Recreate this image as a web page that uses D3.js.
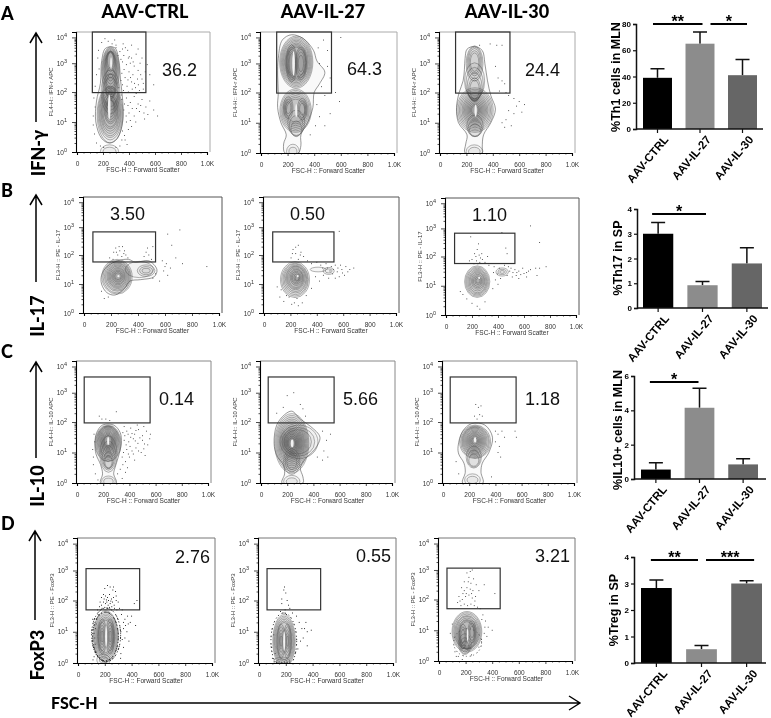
<!DOCTYPE html>
<html><head><meta charset="utf-8">
<script src="https://cdn.jsdelivr.net/npm/d3@7/dist/d3.min.js"></script>
<style>
html,body{margin:0;padding:0;background:#fff}
svg{display:block;filter:blur(0.35px)}
text{font-family:"Liberation Sans",Arial,sans-serif}
.hd{font-family:"Lato",sans-serif;font-weight:900}
.flow{filter:blur(0.35px)}
</style></head><body><svg id="c" width="771" height="718"></svg>
<script>
// ---------- data ----------
const groups = ["AAV-CTRL","AAV-IL-27","AAV-IL-30"];
const rowLetters = ["A","B","C","D"];
const rowMarkers = ["IFN-γ","IL-17","IL-10","FoxP3"];
const yChannelLabels = ["FL4-H:: IFN-r APC","FL3-H :: PE - IL-17","FL4-H:: IL-10 APC","FL3-H :: PE - FoxP3"];
const xChannelLabel = "FSC-H :: Forward Scatter";
const xTicks = [0,200,400,600,800,1000];
const xTickLabels = ["0","200","400","600","800","1.0K"];
const xMinor = [50,100,150,250,300,350,450,500,550,650,700,750,850,900,950];
const expTicks = [0,1,2,3,4];
const expMinorOffsets = [0.3,0.48,0.6,0.7,0.78,0.85,0.9,0.95];
const gateValues = [["36.2","64.3","24.4"],["3.50","0.50","1.10"],["0.14","5.66","1.18"],["2.76","0.55","3.21"]];
// gates: fsc min, fsc max, exp min, exp max
const gates = [[118,530,1.98,4.2],[66,530,1.76,2.83],[55,558,1.97,3.6],[60,460,1.7,3.07]];

// contour rings: fsc centre, exp centre, fsc radius, exp radius
const ringsA1=[[255,1.25,100,.95],[255,1.28,93,.88],[255,1.3,86,.82],[255,1.3,80,.76],[255,1.32,74,.7],[255,1.33,68,.64],[255,1.35,62,.58],[256,1.35,56,.52],[258,1.4,50,.46],[258,1.4,44,.4],[258,1.42,38,.34],[258,1.45,32,.28],[258,1.5,26,.22],[258,2.0,72,.75],[258,2.0,64,.62],[258,2.0,56,.5],[258,2.7,68,.9],[258,2.72,63,.84],[258,2.75,58,.78],[258,2.78,53,.72],[258,2.8,48,.66],[258,2.85,44,.6],[258,2.9,40,.54],[258,2.95,36,.48],[258,3.0,32,.42],[258,3.05,28,.36],[258,3.1,24,.3],[258,2.3,44,.55],[258,2.2,34,.42],[250,.02,70,.22],[250,.02,50,.14]];
const ringsA2=[[265,3.05,125,.95],[265,3.05,118,.9],[265,3.05,111,.85],[265,3.05,104,.8],[265,3.05,97,.75],[265,3.05,90,.7],[265,3.05,84,.65],[265,3.05,78,.6],[265,3.05,72,.55],[230,3.0,42,.68],[230,3.0,36,.6],[230,3.0,30,.52],[230,3.0,24,.44],[230,3.0,18,.36],[300,3.0,42,.6],[300,3.0,36,.52],[300,3.0,28,.42],[300,3.0,20,.3],[260,1.4,118,.72],[260,1.4,110,.67],[260,1.4,102,.62],[260,1.4,94,.56],[260,1.4,86,.5],[260,1.4,78,.44],[260,1.4,70,.38],[205,1.5,36,.36],[205,1.5,28,.28],[205,1.5,20,.2],[310,1.45,36,.36],[310,1.45,28,.28],[310,1.45,20,.2],[265,1.0,64,.42],[265,.9,52,.34],[265,.8,40,.26],[240,.05,48,.24],[240,.05,30,.14]];
const ringsA3=[[262,3.0,64,.64],[262,3.02,56,.58],[262,3.05,48,.5],[262,3.05,40,.42],[262,3.05,32,.34],[262,2.4,76,.62],[262,2.3,66,.56],[262,2.2,56,.48],[262,2.1,46,.4],[262,2.1,36,.32],[265,1.42,138,.74],[265,1.42,128,.69],[265,1.42,118,.64],[265,1.42,108,.59],[265,1.42,98,.54],[265,1.42,89,.49],[265,1.42,80,.44],[265,1.42,71,.39],[265,1.42,62,.34],[265,1.42,53,.29],[265,1.42,44,.24],[265,1.42,35,.19],[265,1.42,26,.14],[265,.9,62,.36],[265,.82,52,.28],[265,.76,42,.2],[260,.05,62,.22],[260,.05,44,.14]];
const ringsB1=[[245,1.25,112,.6],[245,1.25,104,.56],[247,1.26,96,.51],[248,1.26,88,.47],[250,1.27,80,.43],[250,1.27,72,.39],[250,1.27,64,.35],[250,1.27,56,.3],[252,1.27,48,.26],[252,1.27,40,.21],[252,1.27,32,.17],[252,1.27,24,.12],[460,1.46,65,.2],[460,1.46,48,.14],[460,1.46,30,.08],[410,1.5,105,.28]];
const ringsB2=[[235,1.15,110,.62],[235,1.15,102,.57],[237,1.16,94,.53],[238,1.17,86,.48],[240,1.18,78,.44],[240,1.2,70,.4],[240,1.2,62,.36],[242,1.2,54,.32],[245,1.22,46,.27],[245,1.22,38,.22],[245,1.22,30,.18],[248,1.22,22,.13],[250,1.2,14,.08],[490,1.45,42,.12],[490,1.45,26,.07],[410,1.5,60,.08]];
const ringsB3=[[240,1.14,97,.54],[240,1.14,89,.5],[240,1.14,81,.46],[241,1.14,73,.42],[242,1.14,65,.38],[242,1.15,57,.33],[244,1.16,49,.28],[244,1.16,41,.23],[244,1.16,33,.18],[246,1.17,25,.13],[246,1.17,16,.08],[432,1.47,48,.14],[432,1.47,32,.09],[432,1.47,18,.05]];
const ringsC1=[[237,1.3,100,.6],[237,1.3,94,.58],[237,1.32,88,.55],[237,1.34,82,.52],[237,1.35,76,.49],[237,1.36,70,.46],[237,1.37,64,.42],[237,1.38,58,.38],[237,1.38,52,.34],[237,1.38,46,.3],[237,1.38,40,.26],[237,1.38,34,.22],[237,1.38,28,.18],[240,.95,66,.6],[240,.9,56,.48],[240,.85,46,.38],[240,.75,36,.28],[240,.7,28,.2],[240,.05,52,.18],[240,.05,36,.11]];
const ringsC2=[[235,1.3,130,.98],[235,1.3,122,.92],[235,1.3,114,.86],[235,1.3,106,.8],[235,1.3,98,.74],[235,1.3,91,.68],[235,1.3,84,.62],[235,1.3,77,.56],[235,1.3,70,.5],[235,1.3,63,.45],[235,1.3,56,.4],[235,1.3,49,.35],[235,1.3,42,.3],[235,1.3,35,.24],[235,1.3,28,.18],[290,1.35,145,.55],[285,1.35,125,.47],[280,1.35,105,.4],[235,.7,62,.42],[235,.7,50,.34],[235,.7,38,.26],[235,.05,62,.2],[235,.05,42,.12]];
const ringsC3=[[245,1.35,118,.55],[245,1.35,110,.52],[245,1.36,102,.49],[243,1.37,94,.46],[242,1.38,86,.43],[242,1.38,78,.4],[242,1.38,70,.36],[242,1.38,62,.32],[242,1.38,54,.28],[242,1.38,46,.24],[242,1.38,38,.2],[242,1.38,30,.16],[242,1.38,22,.11],[235,.85,58,.36],[235,.8,48,.28],[235,.75,38,.2],[225,.1,60,.2],[225,.1,42,.12]];
const ringsD1=[[207,.85,92,.82],[207,.85,86,.77],[207,.85,80,.72],[207,.85,74,.67],[207,.85,68,.62],[207,.85,62,.57],[207,.85,56,.52],[180,.85,32,.56],[180,.85,26,.46],[180,.85,20,.36],[180,.85,14,.27],[180,.85,8,.18],[240,.85,32,.56],[240,.85,26,.46],[240,.85,20,.36],[240,.85,14,.27],[240,.85,8,.18],[190,.1,50,.18],[190,.1,30,.1]];
const ringsD2=[[187,.7,84,.85],[187,.7,78,.8],[187,.7,72,.75],[187,.7,66,.7],[187,.7,60,.65],[187,.7,54,.6],[165,.7,30,.55],[165,.7,24,.46],[165,.7,18,.36],[165,.7,12,.26],[165,.7,7,.17],[212,.7,30,.55],[212,.7,24,.46],[212,.7,18,.36],[212,.7,12,.26],[212,.7,7,.17],[170,.05,60,.14],[170,.05,40,.08]];
const ringsD3=[[210,.95,112,.66],[210,.95,105,.62],[210,.95,98,.58],[210,.93,91,.55],[210,.92,84,.53],[210,.9,77,.5],[210,.88,70,.47],[210,.88,63,.44],[210,.88,56,.4],[180,.8,30,.4],[180,.8,23,.31],[180,.8,16,.22],[248,.95,30,.36],[248,.95,23,.28],[248,.95,16,.19],[195,.55,48,.34],[195,.5,38,.26],[195,.47,28,.18]];
// outlines of the outer contours: fsc, exp
const outlineA1=[[145,1.0],[150,1.7],[180,2.3],[190,3.1],[220,3.58],[290,3.6],[322,3.1],[335,2.4],[352,1.7],[350,1.0],[310,.45],[250,.3],[190,.45]];
const outlineA2=[[130,3.2],[160,3.9],[230,4.1],[320,3.95],[395,3.5],[420,3.1],[480,2.7],[440,2.3],[400,2.0],[390,1.5],[350,1.0],[300,.6],[300,.25],[280,0],[180,0],[170,.3],[190,.6],[150,1.0],[125,1.5],[130,2],[125,2.6]];
const outlineA3=[[190,3.2],[205,3.55],[260,3.65],[320,3.5],[340,3],[360,2.4],[385,1.9],[420,1.45],[385,1.0],[330,.6],[320,.2],[320,0],[190,0],[195,.3],[205,.6],[140,1.0],[125,1.5],[145,2],[175,2.4],[185,2.8]];
const outlineB1=[[130,1.0],[170,.7],[230,.62],[300,.85],[340,1.1],[420,1.15],[520,1.25],[540,1.5],[480,1.8],[380,1.75],[330,1.85],[250,1.8],[170,1.6],[130,1.3]];
const outlineC1=[[137,1.3],[150,1.65],[195,1.9],[280,1.9],[330,1.65],[338,1.3],[315,.85],[290,.5],[280,.3],[300,0],[180,0],[195,.3],[180,.6],[145,.95]];
const outlineC2=[[100,1.3],[120,1.9],[180,2.25],[235,2.37],[300,2.1],[380,1.85],[450,1.5],[410,1.1],[340,.8],[300,.5],[320,.2],[320,0],[160,0],[180,.3],[170,.6],[120,.9]];
const outlineC3=[[115,1.2],[150,1.7],[220,1.95],[320,1.9],[378,1.5],[350,1.0],[300,.65],[290,.35],[305,0],[150,0],[170,.35],[160,.65],[120,.95]];
// low points of the density peaks (drawn light)
const holesA1=[[248,1.5,10,.42],[262,3.0,7,.22]];
const holesA2=[[245,3.0,10,.45],[265,1.4,8,.22]];
const holesA3=[[270,1.4,9,.2]];
const holesB1=[[255,1.27,8,.04]];
const holesC1=[[238,1.38,8,.13]];
const holesC2=[[238,1.3,11,.13]];
const holesC3=[[245,1.42,9,.09]];
const holesD1=[[210,.85,8,.34]];
const holesD2=[[188,.7,8,.32]];
const holesD3=[[215,.85,6,.2]];
// rims of dense dots
const speckleD1=[[210,.9,108,.86],[205,.85,96,.78]];
const speckleD2=[[185,.7,96,.9]];
const speckleD3=[[215,.6,105,.45]];
// scattered events: fsc, exp
const dotsA1=[[300,3.6],[330,3.45],[360,3.3],[390,3.5],[420,3.2],[455,3.35],[350,3.05],[380,2.95],[410,3.0],[440,2.9],[470,2.75],[500,3.2],[345,2.65],[370,2.5],[400,2.7],[430,2.6],[465,2.45],[490,2.6],[510,2.3],[350,2.25],[385,2.2],[420,2.35],[450,2.15],[480,2.05],[510,2.1],[540,2.95],[560,2.6],[590,2.25],[340,1.9],[380,1.8],[410,1.65],[440,1.85],[470,1.6],[500,1.75],[530,1.5],[560,1.7],[590,1.4],[620,1.2],[360,1.4],[400,1.3],[440,1.2],[480,1.35],[520,1.1],[380,1.0],[420,.85],[350,.7],[130,1.8],[125,1.2],[135,.6],[170,2.8],[160,3.2],[190,3.8],[240,3.85],[290,3.9],[180,.2],[330,.2],[370,.4],[300,3.7],[420,3.7],[355,3.75],[315,3.3],[338,3.15],[372,3.6],[402,3.25],[432,3.05],[362,2.78],[392,2.42],[412,2.5],[442,2.3],[472,2.25],[500,2.45],[322,2.15],[338,2.4],[358,2.05],[395,2.0],[425,2.1],[455,1.95],[365,1.6],[345,1.75],[392,1.55],[425,1.45],[458,1.45],[490,1.55],[515,1.3],[545,1.25],[378,1.2],[410,1.05],[452,1.0],[395,.75],[365,.55],[345,.4],[385,.25],[140,2.2],[150,2.6],[165,3.5],[215,3.95],[270,3.75],[150,.3],[125,.9],[140,1.5],[205,.15],[300,.15],[485,3.0],[525,2.7],[350,3.55],[395,3.2],[470,3.55]];
const dotsA2=[[430,3.6],[470,3.9],[500,3.5],[440,3.0],[500,2.9],[520,2.5],[455,2.2],[480,1.9],[560,2.0],[600,4.0],[590,1.7],[420,1.6],[440,1.2],[480,.9],[520,1.3],[370,.6],[410,.9]];
const dotsA3=[[300,3.7],[380,3.75],[430,3.7],[470,3.7],[420,2.9],[440,2.5],[470,2.4],[490,2.3],[450,2.05],[500,2.0],[520,1.9],[560,1.8],[600,1.7],[640,1.6],[580,1.55],[520,1.4],[500,1.1],[540,.9],[470,1.0],[490,.85],[560,1.3],[620,1.35]];
const dotsB1=[[220,2.1],[235,2.25],[260,2.3],[285,2.3],[300,2.15],[250,2.0],[280,1.95],[310,2.0],[190,1.9],[215,1.85],[325,1.9],[460,2.1],[480,2.0],[500,1.85],[510,2.3],[620,2.75],[710,2.9],[650,2.35],[680,1.9],[730,1.7],[610,1.7],[640,1.55],[590,1.45],[580,1.8],[910,1.6],[530,1.35],[510,1.2],[150,.5],[180,.55],[130,.75],[560,1.1],[620,1.3],[265,2.15],[240,2.1],[295,2.05],[470,2.25],[445,1.95],[600,1.6]];
const dotsB2=[[220,2.2],[240,2.05],[260,2.35],[280,2.1],[300,1.95],[205,1.9],[260,1.85],[330,1.8],[360,1.7],[400,1.75],[430,1.65],[470,1.7],[510,1.6],[540,1.65],[560,1.55],[590,1.5],[620,1.6],[650,1.5],[680,1.55],[610,1.3],[570,1.25],[520,1.35],[490,1.2],[450,1.3],[420,1.1],[390,1.25],[570,2.85],[230,.35],[210,.3],[250,.5],[190,.55],[170,.6],[130,.8],[100,.9],[120,.55],[150,.4],[320,.6],[290,.35],[260,.25],[360,.85],[445,1.55],[480,1.55],[525,1.5],[555,1.42],[595,1.38],[635,1.42],[540,1.2],[580,1.65],[500,1.45],[240,2.28],[275,2.0],[215,2.05]];
const dotsB3=[[200,1.9],[220,2.1],[240,2.25],[250,2.45],[230,2.0],[265,1.95],[280,1.9],[260,1.8],[245,1.75],[215,1.75],[300,1.8],[320,2.0],[180,1.85],[190,2.7],[330,1.7],[370,1.65],[410,1.6],[450,1.7],[480,1.65],[500,1.6],[530,1.55],[560,1.5],[590,1.6],[620,1.45],[650,1.55],[690,1.6],[720,1.6],[770,1.65],[510,1.3],[470,1.35],[540,1.35],[380,1.2],[420,1.25],[400,1.05],[560,1.25],[620,1.3],[700,1.35],[430,2.85],[460,2.3],[470,2.1],[720,2.5],[650,3.1],[160,.55],[200,.4],[240,.3],[260,.2],[130,.7],[110,.8],[300,.45],[360,.9],[235,1.85],[255,2.05],[275,2.1],[515,1.45],[545,1.45],[575,1.38],[600,1.42],[635,1.5],[490,1.5],[365,1.45],[395,1.4]];
const dotsC1=[[350,1.65],[380,1.7],[410,1.5],[440,1.6],[470,1.75],[500,1.55],[530,1.7],[560,1.6],[360,1.4],[395,1.35],[430,1.45],[465,1.3],[500,1.4],[540,1.25],[380,1.1],[420,1.05],[450,1.15],[490,1.0],[520,.9],[400,.85],[440,.75],[350,.6],[370,.35],[310,.3],[345,.15],[130,1.6],[120,1.1],[125,.6],[140,.3],[160,.1],[170,2.2],[300,2.35],[250,2.05],[220,2.1],[190,2.1],[360,1.85],[410,1.8],[460,1.9],[510,1.85],[555,1.45],[365,1.55],[390,1.6],[420,1.62],[450,1.72],[480,1.48],[515,1.28],[375,1.25],[405,1.2],[445,1.38],[470,1.05],[510,1.12],[355,1.0],[392,.95],[430,.95],[345,.85],[370,.7],[385,.5],[330,.45],[125,.85],[135,1.35]];
const dotsC2=[[200,2.9],[250,3.0],[300,2.6],[170,2.5],[320,2.45],[340,2.2],[120,2.3],[470,1.7],[500,1.4],[530,1.6],[480,1.05],[510,.85],[470,.75],[430,.85]];
const dotsC3=[[250,2.6],[270,2.5],[290,2.55],[240,2.2],[280,2.25],[300,2.2],[260,2.1],[400,1.7],[420,1.6],[450,1.7],[470,1.5],[400,1.35],[430,1.2],[550,1.7],[560,1.5],[420,1.0],[440,.85],[100,.7],[120,.3],[370,.2]];
const dotsD1=[[200,2.4],[220,2.5],[240,2.45],[260,2.35],[280,2.3],[175,2.1],[190,2.2],[205,2.15],[220,2.1],[235,2.2],[250,2.05],[265,2.1],[285,2.0],[300,1.95],[190,1.95],[205,1.9],[215,1.95],[225,1.85],[240,1.9],[160,1.8],[175,1.85],[270,1.85],[310,1.75],[330,1.7],[145,1.7],[350,1.4],[370,1.5],[390,1.3],[340,1.1],[365,1.0],[400,1.5],[430,1.2],[350,.8],[380,.7],[340,.5],[320,.3],[130,1.1],[125,.8],[115,.5],[120,.2],[110,1.4],[140,1.4],[420,1.9],[440,2.0],[195,2.05],[212,2.02],[228,2.0],[245,1.98],[258,1.95],[180,1.75],[200,1.78],[218,1.75],[235,1.78],[252,1.8],[272,1.75],[290,1.7],[150,1.55],[135,1.25],[120,.95],[128,.6],[135,.35],[112,.1],[325,1.55],[340,1.3],[320,1.0],[330,.75],[318,.15],[165,1.95],[285,2.15],[265,2.45],[355,1.2],[375,1.25]];
const dotsD2=[[170,1.9],[185,2.35],[190,2.45],[200,2.25],[170,2.05],[210,2.0],[220,1.85],[230,1.75],[160,1.65],[195,1.7],[250,1.6],[280,1.5],[300,1.3],[320,1.1],[340,1.1],[360,1.0],[350,1.3],[390,1.05],[330,.8],[310,.7],[360,.55],[290,.45],[270,.3],[110,.9],[95,.5],[120,.3],[180,1.6],[205,1.55],[100,.15],[130,.02],[150,.03],[170,.02],[190,.03],[210,.02],[230,.03]];
const dotsD3=[[210,2.9],[235,2.95],[250,3.0],[190,2.6],[220,2.6],[240,2.55],[260,2.7],[170,2.4],[190,2.3],[210,2.4],[235,2.35],[255,2.3],[280,2.5],[150,2.1],[175,2.0],[200,2.1],[225,2.15],[250,2.05],[275,2.1],[300,2.3],[340,2.5],[140,1.9],[165,1.8],[190,1.85],[215,1.8],[240,1.85],[265,1.8],[290,1.75],[420,2.2],[330,1.5],[350,1.3],[370,1.1],[400,1.0],[340,.9],[320,.7],[300,.45],[100,1.2],[85,.9],[120,.3],[145,.15],[225,2.75],[205,2.2],[245,2.2],[180,2.2],[158,1.95],[270,1.95],[310,1.7],[322,1.35],[345,1.1],[360,.8],[130,.15],[175,.05],[245,.2]];

const panelRings=[[ringsA1,ringsA2,ringsA3],[ringsB1,ringsB2,ringsB3],[ringsC1,ringsC2,ringsC3],[ringsD1,ringsD2,ringsD3]];
const panelOutlines=[[outlineA1,outlineA2,outlineA3],[outlineB1,[],[]],[outlineC1,outlineC2,outlineC3],[[],[],[]]];
const panelHoles=[[holesA1,holesA2,holesA3],[holesB1,holesB1,holesB1],[holesC1,holesC2,holesC3],[holesD1,holesD2,holesD3]];
const panelSpeckle=[[[],[],[]],[[],[],[]],[[],[],[]],[speckleD1,speckleD2,speckleD3]];
const panelDots=[[dotsA1,dotsA2,dotsA3],[dotsB1,dotsB2,dotsB3],[dotsC1,dotsC2,dotsC3],[dotsD1,dotsD2,dotsD3]];

// bar charts
const barTitles=["%Th1 cells in MLN","%Th17 in SP","%IL10+ cells in MLN","%Treg in SP"];
const barMeans=[[39,65,41],[3.0,.92,1.8],[.55,4.15,.85],[2.83,.52,3.0]];
const barTops=[[46,74,53],[3.45,1.07,2.43],[.95,5.28,1.18],[3.13,.66,3.1]];
const barDomains=[[0,80],[0,4],[0,6],[0,4]];
const barTicks=[[0,20,40,60,80],[0,1,2,3,4],[0,2,4,6],[0,1,2,3,4]];
const sigLevels=[[80,80],[3.8],[5.65],[3.89,3.89]];
const sigSpans=[[[0,1],[1,2]],[[0,1]],[[0,1]],[[0,1],[1,2]]];
const sigStars=[["**","*"],["*"],["*"],["**","***"]];

// ---------- layout ----------
const frames=[
 [[76,210,32,152],[260,397,32,153],[439,575,32,153]],
 [[83,222,197,313],[263,399,197,313],[445,579,198,315]],
 [[76,211,361,483],[260,395,361,483],[442,577,361,483]],
 [[77,215,538,663],[258,396,538,663],[438,575,538,661]]];
const expStops=[0,1,2,3,4,4.2], fracStops=[0,.25,.5,.74,.955,1];
const frameCol=["#aaa","#555","#888","#777"];
const valuePos=[[[162,76],[347,75],[525,76]],[[110,220],[290,220],[472,221]],[[159,405],[343,405],[525,405]],[[175,563],[356,562],[535,562]]];
const letterY=[20,197,358,530];
const arrowSpan=[[36,122,32],[36,282,194],[36,458,361],[35,620,530]];
const markerPos=[[39,153],[38,316],[38,486],[38,655]];
const headX=[145,323,507];
const barLayout=[
 {ax:636,ar:763,y0:129,yT:24,b0:643,b1:757,tx:616,tc:77,dx:[[-4.5,2.5],[10.5,4.5]]},
 {ax:637,ar:768,y0:308,yT:209,b0:643,b1:762,tx:618,tc:258,dx:[[-6,3.5]]},
 {ax:634,ar:766,y0:479,yT:376,b0:641,b1:758,tx:618,tc:430,dx:[[-6,-1]]},
 {ax:634,ar:766,y0:663,yT:557,b0:641,b1:762,tx:614,tc:610,dx:[[-5.5,-3.5],[4.5,7.5]]}];
const barCol=["#000","#8c8c8c","#666"];

const svg=d3.select("#c");
const defs=svg.append("defs");

// ---------- headers and markers ----------
groups.forEach((g,i)=>svg.append("text").attr("class","hd").attr("x",headX[i]).attr("y",18).attr("text-anchor","middle").attr("font-size",18).text(g));
rowLetters.forEach((l,i)=>svg.append("text").attr("class","hd").attr("x",1).attr("y",letterY[i]).attr("font-size",18).text(l));
rowMarkers.forEach((m,i)=>{
  const [px,py]=markerPos[i];
  svg.append("text").attr("class","hd").attr("transform",`translate(${px+6},${py}) rotate(-90)`).attr("text-anchor","middle").attr("font-size",18).text(m);
  const [ax,from,to]=arrowSpan[i];
  svg.append("path").attr("d",`M${ax},${from}L${ax},${to+1}M${ax-6},${to+11}L${ax},${to+1}L${ax+6},${to+11}`).attr("fill","none").attr("stroke","#000").attr("stroke-width",1.5);
});
svg.append("text").attr("class","hd").attr("x",51).attr("y",709).attr("font-size",16).text("FSC-H");
svg.append("path").attr("d","M109,703L579,703M569,696L580,703L569,710").attr("fill","none").attr("stroke","#000").attr("stroke-width",1.4);

// ---------- flow plots ----------
frames.forEach((row,r)=>row.forEach((f,c)=>{
  const [L,R,T,B]=f;
  const x=d3.scaleLinear().domain([0,1000]).range([L+1,R-3]);
  const y=d3.scaleLinear().domain(expStops).range(fracStops.map(s=>B-s*(B-T)));
  const g=svg.append("g");
  const id=`clip${r}${c}`;
  defs.append("clipPath").attr("id",id).append("rect").attr("x",L).attr("y",T).attr("width",R-L).attr("height",B-T);
  const body=g.append("g").attr("class","flow").attr("clip-path",`url(#${id})`);
  const ell=(sel)=>sel.attr("cx",d=>x(d[0])).attr("cy",d=>y(d[1]))
     .attr("rx",d=>x(d[0]+d[2])-x(d[0])).attr("ry",d=>(y(d[1]-d[3])-y(d[1]+d[3]))/2);
  body.selectAll(".dot").data(panelDots[r][c]).join("rect").attr("x",d=>x(d[0])-.45).attr("y",d=>y(d[1])-.45).attr("width",.9).attr("height",.9).attr("fill",r==3&&c<2?"#000":"#333");
  const ol=panelOutlines[r][c];
  if(ol.length) body.append("path").datum(ol).attr("d",d3.line().x(d=>x(d[0])).y(d=>y(d[1])).curve(d3.curveCatmullRomClosed)).attr("fill","rgba(0,0,0,.025)").attr("stroke","#555").attr("stroke-width",.6);
  body.selectAll(".ring").data(panelRings[r][c]).join("ellipse").call(ell).attr("fill","rgba(0,0,0,.035)").attr("stroke","#555").attr("stroke-width",.45);
  body.selectAll(".hole").data(panelHoles[r][c]).join("ellipse").call(ell).attr("fill","#f2f2f2").attr("stroke","none");
  body.selectAll(".sp").data(panelSpeckle[r][c]).join("ellipse").call(ell).attr("fill","none").attr("stroke",c==2?"#555":"#000").attr("stroke-width",.95).attr("stroke-dasharray",c==0?"1 1 2 1.5 1 2.5 1.5 .8":"1 2 1.5 3");
  // frame
  g.append("path").attr("d",`M${L},${T}H${R}V${B}`).attr("fill","none").attr("stroke",frameCol[r]).attr("stroke-width",1);
  // gate
  const gt=gates[r];
  g.append("rect").attr("x",x(gt[0])).attr("width",x(gt[1])-x(gt[0])).attr("y",y(gt[3])).attr("height",y(gt[2])-y(gt[3])).attr("fill","none").attr("stroke","#333").attr("stroke-width",1.2);
  // axes
  const ax=g.append("g").attr("transform",`translate(0,${B})`).call(d3.axisBottom(x).tickValues(xTicks).tickSize(3).tickPadding(6).tickFormat((d,i)=>xTickLabels[i]));
  ax.selectAll("text").attr("font-size",6.5).attr("fill","#333").attr("font-family","Liberation Sans");
  g.append("g").attr("transform",`translate(0,${B})`).call(d3.axisBottom(x).tickValues(xMinor).tickSize(1.5).tickFormat("")).select(".domain").remove();
  const ay=g.append("g").attr("transform",`translate(${L},0)`).call(d3.axisLeft(y).tickValues(expTicks).tickSize(4).tickPadding(5).tickFormat(()=>"10"));
  ay.selectAll("text").attr("font-size",6.5).attr("fill","#333").attr("font-family","Liberation Sans").append("tspan").attr("dy",-3).attr("font-size",5.5).text(d=>d);
  const minorExp=d3.cross([0,1,2,3],expMinorOffsets,(a,b)=>a+b);
  g.append("g").attr("transform",`translate(${L},0)`).call(d3.axisLeft(y).tickValues(minorExp).tickSize(1.5).tickFormat("")).select(".domain").remove();
  g.selectAll(".domain").attr("stroke","#000").attr("stroke-width",1.1);
  g.selectAll("line").attr("stroke","#000").attr("stroke-width",.7);
  // labels
  g.append("text").attr("x",(L+R)/2).attr("y",B+19.5).attr("text-anchor","middle").attr("font-size",6.5).attr("fill","#333").text(xChannelLabel);
  g.append("text").attr("transform",`translate(${L-23},${(T+B)/2}) rotate(-90)`).attr("text-anchor","middle").attr("font-size",6).attr("fill","#333").text(yChannelLabels[r]);
  // value
  const [vx,vy]=valuePos[r][c];
  g.append("text").attr("x",vx).attr("y",vy).attr("font-size",18).attr("fill","#111").text(gateValues[r][c]);
}));

// ---------- bar charts ----------
barTitles.forEach((title,i)=>{
  const l=barLayout[i];
  const x=d3.scaleBand().domain(groups).range([l.b0,l.b1]).paddingInner(.318);
  const y=d3.scaleLinear().domain(barDomains[i]).range([l.y0,l.yT]);
  const g=svg.append("g");
  g.selectAll(".stem").data(groups).join("path").attr("d",(d,k)=>{
    const cx=x(d)+x.bandwidth()/2;
    return `M${cx},${y(barMeans[i][k])}V${y(barTops[i][k])}M${cx-7},${y(barTops[i][k])}H${cx+7}`;
  }).attr("stroke","#111").attr("stroke-width",1.5).attr("fill","none");
  g.selectAll(".bar").data(groups).join("rect").attr("x",d=>x(d)).attr("width",x.bandwidth())
    .attr("y",(d,k)=>y(barMeans[i][k])).attr("height",(d,k)=>l.y0-y(barMeans[i][k])).attr("fill",(d,k)=>barCol[k]);
  const ay=g.append("g").attr("transform",`translate(${l.ax},0)`).call(d3.axisLeft(y).tickValues(barTicks[i]).tickSize(3).tickPadding(2).tickFormat(d3.format("d")));
  ay.selectAll("text").attr("font-size",8).attr("font-weight","bold").attr("font-family","Liberation Sans").attr("fill","#000");
  const axb=g.append("g").attr("transform",`translate(0,${l.y0})`).call(d3.axisBottom(x).tickSize(4).tickPadding(4));
  axb.select(".domain").attr("d",`M${l.ax},0H${l.ar}`);
  axb.selectAll("text").attr("font-size",11.5).attr("font-weight","bold").attr("font-family","Liberation Sans").attr("fill","#000")
     .attr("text-anchor","end").attr("transform","translate(1,2) rotate(-50)").attr("dy","0.5em");
  g.selectAll(".domain").attr("stroke","#111").attr("stroke-width",1.5);
  g.selectAll(".tick line").attr("stroke","#111").attr("stroke-width",1.2);
  g.append("text").attr("transform",`translate(${l.tx+4},${l.tc}) rotate(-90)`).attr("text-anchor","middle").attr("font-size",12.5).attr("font-weight","bold").text(title);
  sigSpans[i].forEach((s,k)=>{
    const cc=d=>x(groups[d])+x.bandwidth()/2;
    const x0=cc(s[0])+l.dx[k][0], x1=cc(s[1])+l.dx[k][1], sy=y(sigLevels[i][k]);
    g.append("line").attr("x1",x0).attr("x2",x1).attr("y1",sy).attr("y2",sy).attr("stroke","#000").attr("stroke-width",2);
    g.append("text").attr("x",(x0+x1)/2).attr("y",sy+3).attr("text-anchor","middle").attr("font-size",16).attr("font-weight","bold").text(sigStars[i][k]);
  });
});
</script></body></html>
